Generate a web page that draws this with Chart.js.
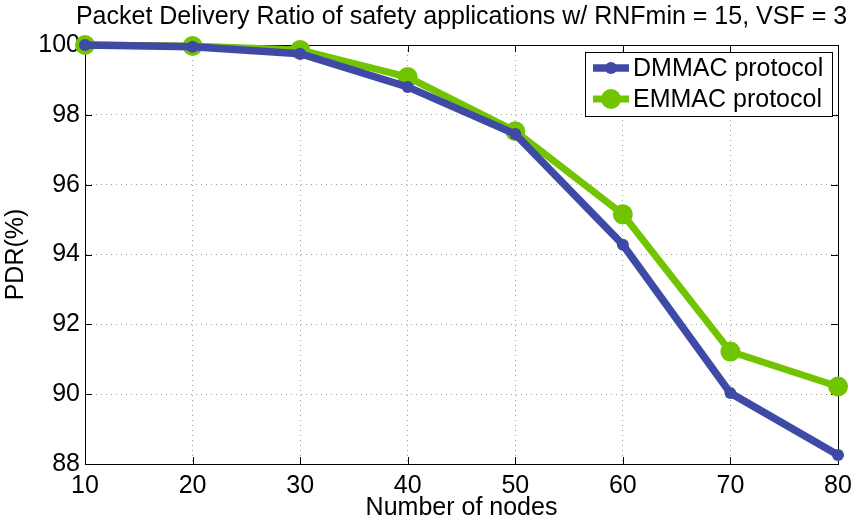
<!DOCTYPE html>
<html>
<head>
<meta charset="utf-8">
<script src="https://cdn.jsdelivr.net/npm/chart.js@4"></script>
<style>
  html, body { margin: 0; padding: 0; background: #fff; }
  canvas { display: block; }
</style>
</head>
<body>
<canvas id="chart" width="860" height="524"></canvas>
<script>
// chart data
const nodes = [10, 20, 30, 40, 50, 60, 70, 80];
const dmmacPdr = [100, 99.95, 99.75, 98.8, 97.45, 94.28, 90.03, 88.26];
const emmacPdr = [100, 99.97, 99.86, 99.08, 97.53, 95.15, 91.22, 90.22];
const seriesNames = ['DMMAC protocol', 'EMMAC protocol'];
const yTicks = [88, 90, 92, 94, 96, 98, 100];
const xTicks = [10, 20, 30, 40, 50, 60, 70, 80];

const FONT = '"Liberation Sans", Arial, Helvetica, sans-serif';
const BLUE = '#3f4aa6';
const GREEN = '#73c400';

function toPoints(xs, ys) {
    return xs.map((x, i) => ({ x: x, y: ys[i] }));
}

// draws the box, inward ticks, titles and the legend
const decorations = {
    id: 'decorations',
    beforeDatasetsDraw(chart) {
        const ctx = chart.ctx;
        const area = chart.chartArea;
        const xs = chart.scales.x;
        const ys = chart.scales.y;
        const tl = 7;
        ctx.save();
        ctx.strokeStyle = '#000';
        ctx.lineWidth = 1;
        ctx.beginPath();
        ctx.moveTo(area.left, area.top + 0.5);
        ctx.lineTo(area.right + 0.5, area.top + 0.5);
        ctx.lineTo(area.right + 0.5, area.bottom);
        xTicks.forEach(v => {
            const px = Math.round(xs.getPixelForValue(v)) + 0.5;
            ctx.moveTo(px, area.bottom);
            ctx.lineTo(px, area.bottom - tl);
            ctx.moveTo(px, area.top);
            ctx.lineTo(px, area.top + tl);
        });
        yTicks.forEach(v => {
            const py = Math.round(ys.getPixelForValue(v)) + 0.5;
            ctx.moveTo(area.left, py);
            ctx.lineTo(area.left + tl, py);
            ctx.moveTo(area.right, py);
            ctx.lineTo(area.right - tl, py);
        });
        ctx.stroke();
        ctx.restore();
    },
    afterDraw(chart) {
        const ctx = chart.ctx;
        const area = chart.chartArea;
        const mid = (area.left + area.right) / 2;
        ctx.save();
        ctx.fillStyle = '#000';

        // title
        ctx.font = '25px ' + FONT;
        ctx.textAlign = 'center';
        ctx.textBaseline = 'alphabetic';
        ctx.fillText('Packet Delivery Ratio of safety applications w/ RNFmin = 15, VSF = 3', mid, 24);

        // axis titles
        ctx.font = '25px ' + FONT;
        ctx.fillText('Number of nodes', mid, 515);
        ctx.save();
        ctx.translate(23, (area.top + area.bottom) / 2);
        ctx.rotate(-Math.PI / 2);
        ctx.fillText('PDR(%)', 0, 0);
        ctx.restore();

        // legend
        const box = { x: 585.5, y: 52.5, w: 247, h: 64 };
        ctx.fillStyle = '#fff';
        ctx.fillRect(box.x, box.y, box.w, box.h);
        ctx.strokeStyle = '#000';
        ctx.lineWidth = 1;
        ctx.strokeRect(box.x, box.y, box.w, box.h);
        const rows = [68, 99];
        chart.data.datasets.forEach((ds, i) => {
            const y = rows[i];
            ctx.strokeStyle = ds.borderColor;
            ctx.lineWidth = ds.borderWidth;
            ctx.beginPath();
            ctx.moveTo(593, y);
            ctx.lineTo(629, y);
            ctx.stroke();
            ctx.fillStyle = ds.pointBackgroundColor;
            ctx.beginPath();
            ctx.arc(611, y, ds.pointRadius, 0, Math.PI * 2);
            ctx.fill();
            ctx.fillStyle = '#000';
            ctx.font = '25px ' + FONT;
            ctx.textAlign = 'left';
            ctx.textBaseline = 'middle';
            ctx.fillText(ds.label, 633, y + 1);
        });
        ctx.restore();
    }
};

new Chart(document.getElementById('chart'), {
    type: 'line',
    data: {
        datasets: [{
            label: seriesNames[0],
            data: toPoints(nodes, dmmacPdr),
            borderColor: BLUE,
            backgroundColor: BLUE,
            pointBackgroundColor: BLUE,
            pointBorderWidth: 0,
            pointRadius: 6,
            borderWidth: 7.5,
            tension: 0,
            clip: false
        }, {
            label: seriesNames[1],
            data: toPoints(nodes, emmacPdr),
            borderColor: GREEN,
            backgroundColor: GREEN,
            pointBackgroundColor: GREEN,
            pointBorderWidth: 0,
            pointRadius: 10,
            borderWidth: 7,
            tension: 0,
            clip: false
        }]
    },
    options: {
        responsive: false,
        animation: false,
        events: [],
        layout: { padding: { top: 45, right: 22, left: 0, bottom: 0 } },
        plugins: {
            legend: { display: false },
            title: { display: false },
            tooltip: { enabled: false }
        },
        scales: {
            x: {
                type: 'linear',
                min: 10,
                max: 80,
                afterBuildTicks: s => { s.ticks = xTicks.map(v => ({ value: v })); },
                afterFit: s => { s.height = 60; },
                grid: { color: '#a0a0a0', drawTicks: false, lineWidth: 1 },
                border: { display: true, color: '#000', width: 1, dash: [1, 4] },
                ticks: { color: '#000', padding: 7, font: { family: FONT, size: 25 } }
            },
            y: {
                min: 88,
                max: 100,
                afterBuildTicks: s => { s.ticks = yTicks.map(v => ({ value: v })); },
                afterFit: s => { s.width = 85; },
                grid: { color: '#a0a0a0', drawTicks: false, lineWidth: 1 },
                border: { display: true, color: '#000', width: 1, dash: [1, 4] },
                ticks: { color: '#000', padding: 5, font: { family: FONT, size: 25 } }
            }
        }
    },
    plugins: [decorations]
});
</script>
</body>
</html>
